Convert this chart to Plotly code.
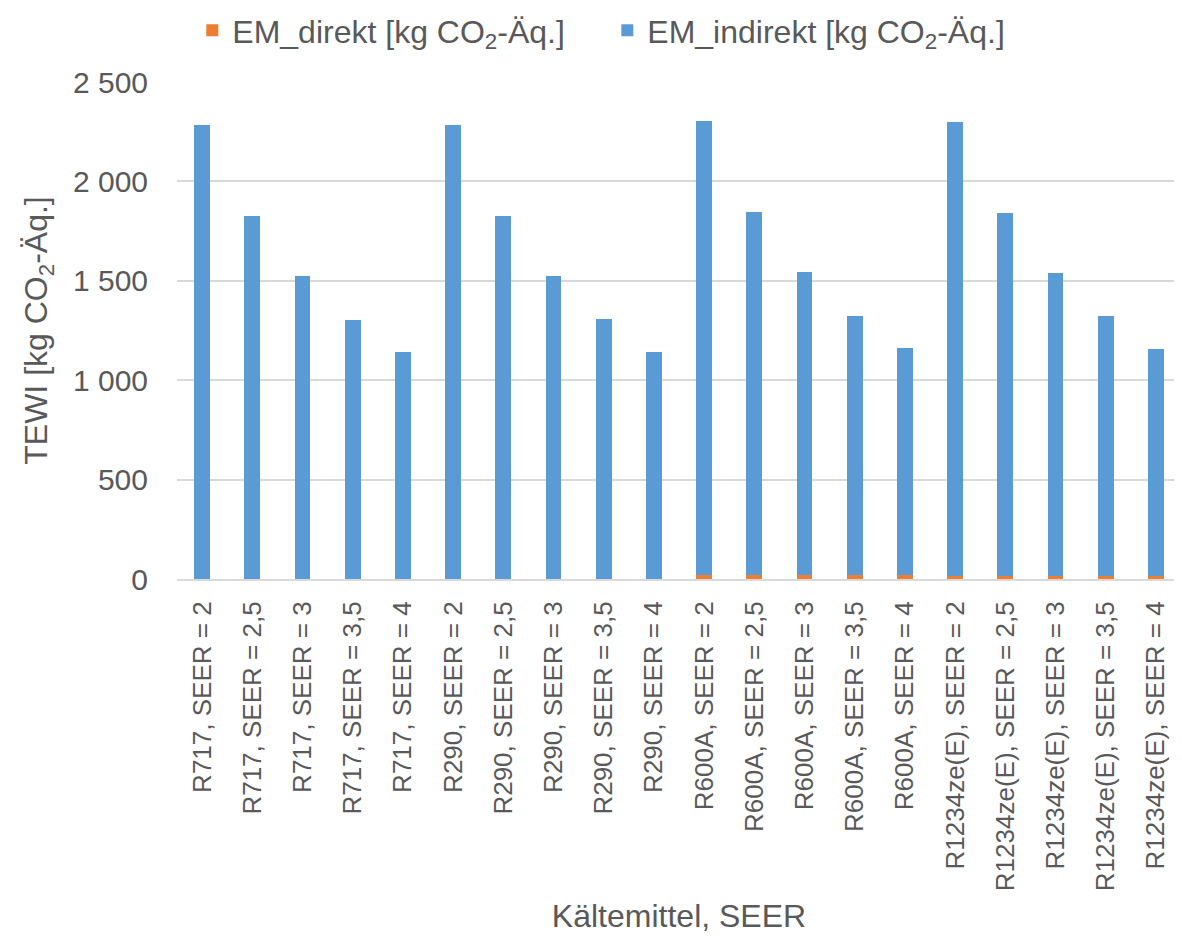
import plotly.graph_objects as go

categories = [
    "R717, SEER = 2", "R717, SEER = 2,5", "R717, SEER = 3", "R717, SEER = 3,5", "R717, SEER = 4",
    "R290, SEER = 2", "R290, SEER = 2,5", "R290, SEER = 3", "R290, SEER = 3,5", "R290, SEER = 4",
    "R600A, SEER = 2", "R600A, SEER = 2,5", "R600A, SEER = 3", "R600A, SEER = 3,5", "R600A, SEER = 4",
    "R1234ze(E), SEER = 2", "R1234ze(E), SEER = 2,5", "R1234ze(E), SEER = 3", "R1234ze(E), SEER = 3,5", "R1234ze(E), SEER = 4",
]

em_direkt = [
    0, 0, 0, 0, 0,
    0.5, 0.5, 0.5, 0.5, 0.5,
    20, 20, 20, 20, 20,
    17, 17, 17, 17, 17,
]

em_indirekt = [
    2283, 1825, 1522, 1304, 1141,
    2283, 1826, 1523, 1305, 1141,
    2283, 1826, 1522, 1304, 1141,
    2283, 1826, 1523, 1305, 1142,
]

y_tickvals = [0, 500, 1000, 1500, 2000, 2500]
y_ticktext = ["0", "500", "1 000", "1 500", "2 000", "2 500"]

FONT = "Liberation Sans, Arial, sans-serif"
GREY = "#595959"

fig = go.Figure()
fig.add_trace(go.Bar(
    x=categories, y=em_direkt, name="EM_direkt [kg CO<sub>2</sub>-Äq.]",
    marker=dict(color="#ED7D31", line=dict(width=0)),
))
fig.add_trace(go.Bar(
    x=categories, y=em_indirekt, name="EM_indirekt [kg CO<sub>2</sub>-Äq.]",
    marker=dict(color="#5B9BD5", line=dict(width=0)),
))

# page body has an 8px default margin, so the figure is 8px smaller
fig.update_layout(
    barmode="stack",
    bargap=0.688,
    width=1174, height=933,
    margin=dict(l=169, r=1, t=74, b=362, autoexpand=False),
    paper_bgcolor="white", plot_bgcolor="white",
    font=dict(family=FONT, color=GREY, size=30),
    legend=dict(
        orientation="h", xref="container", yref="container",
        x=0.157, y=0.976, xanchor="left", yanchor="middle",
        font=dict(size=32, color=GREY), entrywidth=370,
        traceorder="normal", itemclick=False,
    ),
    showlegend=True,
)

fig.update_yaxes(
    range=[0, 2500], tickvals=y_tickvals, ticktext=y_ticktext,
    showgrid=True, gridcolor="#D9D9D9", gridwidth=1.5,
    zeroline=False, showline=False, ticks="",
    tickfont=dict(size=30, color=GREY), ticklabelstandoff=28,
    title=dict(text="TEWI [kg CO<sub>2</sub>-Äq.]", font=dict(size=32, color=GREY), standoff=15),
)
fig.update_xaxes(
    tickangle=-90, tickfont=dict(size=26, color=GREY),
    showline=True, linecolor="#D9D9D9", linewidth=2,
    ticks="", ticklabelstandoff=10,
    title=dict(text="Kältemittel, SEER", font=dict(size=32, color=GREY), standoff=14),
)

fig.write_html("out.html")
